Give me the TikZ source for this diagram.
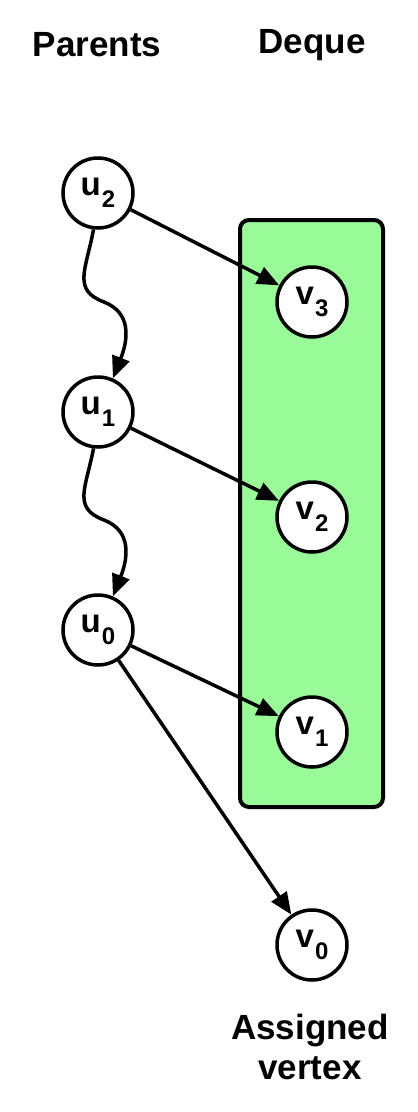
\documentclass[tikz,border=0pt]{standalone}
\usepackage{fontspec}
\setmainfont{Liberation Sans}
\usetikzlibrary{arrows.meta, positioning}

\definecolor{dequegreen}{HTML}{98FB98}
\newcommand{\vname}[2]{#1\kern1pt\raisebox{-12pt}{\fontsize{24}{24}\selectfont #2}}

\begin{document}
\begin{tikzpicture}[x=1pt, y=-1pt,
  vertex/.style={circle, draw=black, fill=white, line width=3.5pt, minimum size=70pt, inner sep=0pt, font=\fontsize{33}{33}\selectfont\bfseries},
  title/.style={font=\fontsize{35}{40}\selectfont\bfseries, align=center},
  dequebox/.style={draw=black, fill=dequegreen, rounded corners=9pt, line width=4pt, minimum width=143pt, minimum height=587pt},
  arrow/.style={line width=3.5pt, -{Triangle[length=22pt, width=18pt]}}]

\useasboundingbox (0,0) rectangle (418,1112);

\node[title] (parents) at (97, 45) {Parents};
\node[title] (deque) at (312, 45) {Deque};
\node[title] (assigned) at (310, 1047) {Assigned\\vertex};

\node[dequebox] (box) at (311.5, 513.5) {};

\node[vertex] (u2) at (98, 193) {\vname{u}{2}};
\node[vertex] (u1) at (98, 412) {\vname{u}{1}};
\node[vertex] (u0) at (98, 630) {\vname{u}{0}};

\node[vertex] (v3) at (312, 302) {\vname{v}{3}};
\node[vertex] (v2) at (312, 517) {\vname{v}{2}};
\node[vertex] (v1) at (312, 732) {\vname{v}{1}};
\node[vertex] (v0) at (312, 945) {\vname{v}{0}};

\draw[arrow] (u2) -- (v3);
\draw[arrow] (u1) -- (v2);
\draw[arrow] (u0) -- (v1);
\draw[arrow] (u0) -- (v0);

% wavy parent links
\draw[arrow] (u2.263) .. controls (86, 270) and (72, 290) .. (104, 302)
  .. controls (132, 313) and (128, 340) .. (u1.66);
\draw[arrow] (u1.263) .. controls (86, 488) and (72, 508) .. (104, 520)
  .. controls (132, 531) and (128, 558) .. (u0.66);

\end{tikzpicture}
\end{document}
